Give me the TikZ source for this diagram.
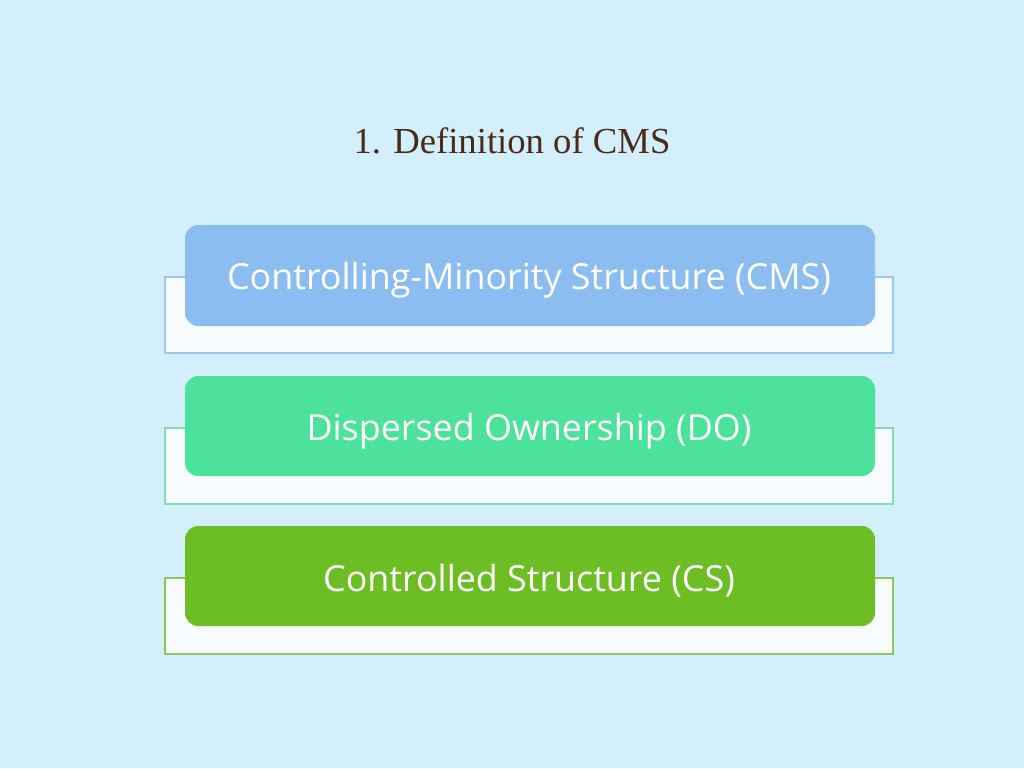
\documentclass[tikz,border=0pt]{standalone}
\usepackage{fontspec}
\setmainfont{Liberation Serif}
\newfontfamily\boxfont{Open Sans}
\definecolor{bg}{HTML}{D2EFFB}
\definecolor{titlec}{HTML}{4A2A18}
\definecolor{cA}{HTML}{8BBDF0}
\definecolor{cAb}{HTML}{9CC9EE}
\definecolor{cB}{HTML}{4CE29B}
\definecolor{cBb}{HTML}{80DDB2}
\definecolor{cC}{HTML}{6DBE24}
\definecolor{cCb}{HTML}{8DC853}
\definecolor{backfill}{HTML}{F8FCFF}
\begin{document}
\begin{tikzpicture}[x=0.75pt,y=-0.75pt,
  backbox/.style={draw=#1,line width=0.9pt,fill=backfill},
  frontbox/.style={fill=#1,rounded corners=10pt,draw=none},
  label/.style={text=white,font=\boxfont\fontsize{26.9}{32}\selectfont,anchor=center}]
\fill[bg] (0,0) rectangle (1024,768);
\useasboundingbox (0,0) rectangle (1024,768);
\node[text=titlec,font=\fontsize{27.5}{33}\selectfont] (title) at (512,141) {1. Definition of CMS};
% box 1
\draw[backbox=cAb] (165,277) rectangle (893,353);
\fill[frontbox=cA] (185,225) rectangle (875,326);
\node[label] (a) at (529,280) {Controlling-Minority Structure (CMS)};
% box 2
\draw[backbox=cBb] (165,428) rectangle (893,504);
\fill[frontbox=cB] (185,376) rectangle (875,476);
\node[label] (b) at (529,431) {Dispersed Ownership (DO)};
% box 3
\draw[backbox=cCb] (165,578) rectangle (893,654);
\fill[frontbox=cC] (185,526) rectangle (875,626);
\node[label] (c) at (529,581) {Controlled Structure (CS)};
\end{tikzpicture}
\end{document}
